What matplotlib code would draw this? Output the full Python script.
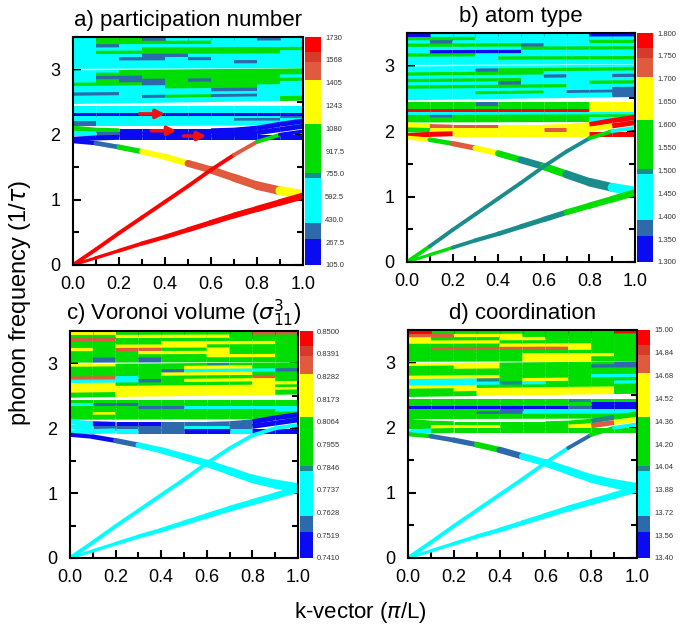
import numpy as np
import matplotlib
matplotlib.use('Agg')
import matplotlib.pyplot as plt
from matplotlib.collections import LineCollection
from matplotlib.colors import ListedColormap, BoundaryNorm
from matplotlib.colorbar import ColorbarBase

plt.rcParams['font.family'] = ['Liberation Sans', 'DejaVu Sans']

# ---------------- data ----------------
K = [0.0, 0.1, 0.2, 0.3, 0.4, 0.5, 0.6, 0.7, 0.8, 0.9, 1.0]

# nearly flat upper branches: frequency at k=0 and k=1
FLAT_LEFT = [3.45, 3.40, 3.35, 3.30, 3.25, 3.20, 3.15, 3.10, 3.05, 2.95, 2.91, 2.86,
             2.81, 2.76, 2.71, 2.66, 2.61, 2.56, 2.51, 2.41, 2.36, 2.31, 2.26, 2.21, 2.17]
FLAT_RIGHT = [3.45, 3.41, 3.36, 3.31, 3.26, 3.21, 3.16, 3.11, 3.06, 2.98, 2.94, 2.89,
              2.84, 2.79, 2.74, 2.69, 2.64, 2.60, 2.56, 2.41, 2.36, 2.31, 2.26, 2.22, 2.18]

BEND_HI = [2.10, 2.07, 2.06, 2.06, 2.06, 2.06, 2.06, 2.07, 2.10, 2.16, 2.21]
BEND_LO = [2.02, 2.01, 2.01, 2.01, 2.01, 2.01, 2.01, 2.01, 2.03, 2.08, 2.13]
FLAT_BOTTOM = [1.93, 1.95, 1.96, 1.96, 1.96, 1.96, 1.96, 1.96, 1.96, 1.96, 1.96]
DESC = [1.90, 1.87, 1.81, 1.74, 1.66, 1.56, 1.46, 1.34, 1.22, 1.14, 1.08]
STEEP = [0.00, 0.24, 0.49, 0.73, 0.97, 1.21, 1.46, 1.69, 1.89, 2.00, 2.05]
LOWER = [0.00, 0.11, 0.22, 0.33, 0.43, 0.54, 0.65, 0.76, 0.86, 0.96, 1.06]

# colour level per k-interval (0 blue .. 8 red) for each branch, per panel
CODES_A = ["2441222212", "2444442222", "2122222222", "2224444444", "2444444442",
           "2221122222", "2211212222", "2222222122", "2222222222", "2244444444",
           "2444444444", "2114444442", "2411414444", "4441444442", "2222444422",
           "2222221122", "1122222222", "2221441122", "2222222224", "2222222222",
           "2222222222", "0000000000", "2222222221", "2222222112", "1222222222",
           "4400000000", "2100000000", "0000000000",
           "0145566665", "8888888640", "8888888888"]
CODES_B = ["0222222200", "4442222222", "2122222244", "4444412222", "2222244444",
           "2000022222", "4442222222", "2222444444", "2222222222", "2222222222",
           "2221444444", "4444442222", "2222221221", "4444422222", "2222122244",
           "4444444222", "2222222221", "2224442111", "2222222221", "4441444455",
           "4444444455", "8888888855", "2222222222", "4144444444", "4444444422",
           "5666555588", "4555556558", "8855555588",
           "5465434332", "4333333342", "4433333444"]
CODES_C = ["5544444466", "4455555444", "6644444444", "4444555554", "4455554444",
           "5466445444", "4445555444", "4444445554", "4141444444", "5544443444",
           "4444455544", "4444122221", "4444555544", "6624444464", "2221455554",
           "5544444455", "5555555554", "5555555555", "4455555554", "4444444444",
           "2114444444", "4441122222", "4444444442", "4544444444", "4444444444",
           "2000111100", "2111122100", "2221100200",
           "0012222222", "2222222222", "2222222222"]
CODES_D = ["8444444448", "6655544444", "5444554444", "5555444444", "4444555544",
           "4666666544", "4444444444", "4444455554", "4444455544", "5555444441",
           "4455444411", "4444444444", "4444444444", "5555444422", "2223455444",
           "2222324442", "5554444444", "4455555554", "4445555554", "4444444344",
           "4444444400", "0000000100", "4444122222", "4441122222", "4444444444",
           "4444444434", "4555444565", "2444444444",
           "4114122222", "2222222142", "2222222222"]

TITLES = ["a) participation number", "b) atom type",
          r"c) Voronoi volume ($\sigma_{11}^{3}$)", "d) coordination"]
CB_RANGES = [(105.0, 1730.0), (1.300, 1.800), (0.7410, 0.8500), (13.40, 15.00)]
CB_LABELS = [
    ["105.0", "267.5", "430.0", "592.5", "755.0", "917.5", "1080", "1243", "1405", "1568", "1730"],
    ["1.300", "1.350", "1.400", "1.450", "1.500", "1.550", "1.600", "1.650", "1.700", "1.750", "1.800"],
    ["0.7410", "0.7519", "0.7628", "0.7737", "0.7846", "0.7955", "0.8064", "0.8173", "0.8282", "0.8391", "0.8500"],
    ["13.40", "13.56", "13.72", "13.88", "14.04", "14.20", "14.36", "14.52", "14.68", "14.84", "15.00"],
]
# arrows in panel a: (k start, k end, frequency)
ARROWS_A = [(0.29, 0.40, 2.32), (0.34, 0.45, 2.06), (0.48, 0.58, 1.98)]

# ---------------- style ----------------
LEVEL_COLORS = ['#0B0BF2', '#2C6AAC', '#00FFFF', '#1A8C8C', '#00DD00',
                '#FFFF00', '#E05A3E', '#D63A2A', '#FF0000']
CB_FRACS = np.array([0, 0.115, 0.185, 0.383, 0.405, 0.62, 0.81, 0.89, 0.934, 1.0])

W, H = 693, 633
AX_PIX = [(73, 303, 37, 265), (407, 635, 33, 262), (70, 298, 331, 558), (408, 637, 330, 558)]
CB_PIX = [(305, 321), (637, 653), (300, 313), (638, 650)]


def branches():
    out = []
    for yl, yr in zip(FLAT_LEFT, FLAT_RIGHT):
        out.append((np.linspace(yl, yr, len(K)), 'flat'))
    out.append((np.array(BEND_HI), 'flat'))
    out.append((np.array(BEND_LO), 'flat'))
    out.append((np.array(FLAT_BOTTOM), 'flat'))
    out.append((np.array(DESC), 'desc'))
    out.append((np.array(STEEP), 'steep'))
    out.append((np.array(LOWER), 'lower'))
    return out


def width_for(kind, k):
    if kind == 'flat':
        return 3.6
    if kind == 'desc':
        return 2.8 + 4.0 * k
    if kind == 'steep':
        return 2.8
    return 2.0 + 3.0 * k


fig = plt.figure(figsize=(W / 100, H / 100), dpi=100)
kx = np.array(K)
all_codes = [CODES_A, CODES_B, CODES_C, CODES_D]

for p in range(4):
    l, r, t, b = AX_PIX[p]
    ax = fig.add_axes([l / W, 1 - b / H, (r - l) / W, (b - t) / H])
    for capstyle, kinds in (('butt', ('flat',)), ('round', ('desc', 'steep', 'lower'))):
        segs, cols, lws = [], [], []
        for (ys, kind), code in zip(branches(), all_codes[p]):
            if kind not in kinds:
                continue
            for j in range(len(K) - 1):
                segs.append([(kx[j], ys[j]), (kx[j + 1], ys[j + 1])])
                cols.append(LEVEL_COLORS[int(code[j])])
                lws.append(width_for(kind, 0.5 * (kx[j] + kx[j + 1])))
        ax.add_collection(LineCollection(segs, colors=cols, linewidths=lws,
                                         capstyle=capstyle))
    ax.set_xlim(0, 1)
    ax.set_ylim(0, 3.5)
    ax.set_xticks([0, 0.2, 0.4, 0.6, 0.8, 1.0])
    ax.set_xticks(np.arange(0.1, 1.0, 0.2), minor=True)
    ax.set_yticks([0, 1, 2, 3])
    ax.set_yticks([0.5, 1.5, 2.5, 3.5], minor=True)
    ax.set_xticklabels(["0.0", "0.2", "0.4", "0.6", "0.8", "1.0"])
    ax.tick_params(which='both', direction='in', top=True, right=True,
                   width=1.5, labelsize=13)
    ax.tick_params(axis='x', pad=8)
    ax.tick_params(axis='y', pad=9)
    ax.tick_params(which='major', length=6)
    ax.tick_params(which='minor', length=4)
    for s in ax.spines.values():
        s.set_linewidth(1.5)
    ax.set_title(TITLES[p], fontsize=16, pad=8)
    if p == 0:
        for k0, k1, f in ARROWS_A:
            ax.annotate('', xy=(k1, f), xytext=(k0, f),
                        arrowprops=dict(arrowstyle='-|>', color='#F01010', lw=2.5,
                                        mutation_scale=13, shrinkA=0, shrinkB=0))

    # colour bar
    cl, cr = CB_PIX[p]
    cax = fig.add_axes([cl / W, 1 - b / H, (cr - cl) / W, (b - t) / H])
    vmin, vmax = CB_RANGES[p]
    bounds = vmin + CB_FRACS * (vmax - vmin)
    cmap = ListedColormap(LEVEL_COLORS)
    norm = BoundaryNorm(bounds, cmap.N)
    cb = ColorbarBase(cax, cmap=cmap, norm=norm, boundaries=bounds,
                      spacing='proportional', orientation='vertical')
    cb.outline.set_visible(False)
    cb.set_ticks(np.linspace(vmin, vmax, 11))
    cb.set_ticklabels(CB_LABELS[p])
    cax.tick_params(length=0, labelsize=5.5, pad=3, labelcolor='#333333')
    cax.minorticks_off()

fig.text(0.029, 0.521, r"phonon frequency (1/$\tau$)", rotation=90,
         ha='center', va='center', fontsize=17)
fig.text(0.52, 0.032, r"k-vector ($\pi$/L)", ha='center', va='center', fontsize=16)

fig.savefig('out.png', dpi=100)
